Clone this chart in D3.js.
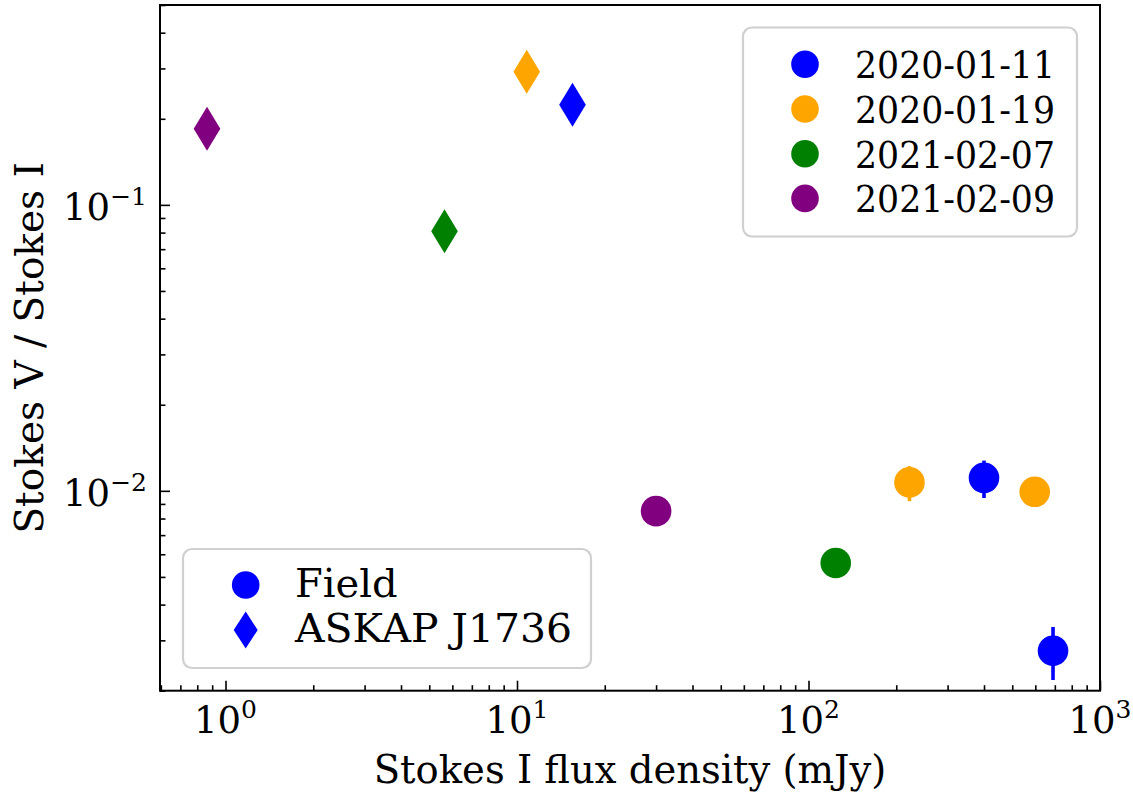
<!DOCTYPE html>
<html>
<head>
<meta charset="utf-8">
<script src="https://cdn.jsdelivr.net/npm/d3@7"></script>
<style>
  body { margin: 0; background: #fff; }
  svg { display: block; }
</style>
</head>
<body>
<svg id="chart" width="1133" height="795" font-family="'DejaVu Serif', 'Liberation Serif', 'Times New Roman', serif"></svg>
<script>
// ---- data ----
const dates = ["2020-01-11", "2020-01-19", "2021-02-07", "2021-02-09"];
const dateColors = ["#0000ff", "#ffa500", "#008000", "#800080"];

// Field sources (circles)
const fieldDate  = ["2020-01-11", "2020-01-11", "2020-01-19", "2020-01-19", "2021-02-07", "2021-02-09"];
const fieldFlux  = [400, 690, 222, 597, 124, 30.0];
const fieldRatio = [0.0111, 0.00276, 0.0107, 0.00992, 0.00559, 0.00849];
const fieldErr   = [0.00166, 0.00058, 0.0015, 0.0004, 0.0003, 0.0003];

// ASKAP J1736 (diamonds)
const srcDate  = ["2020-01-11", "2020-01-19", "2021-02-07", "2021-02-09"];
const srcFlux  = [15.5, 10.8, 5.64, 0.864];
const srcRatio = [0.224, 0.292, 0.0809, 0.1845];

const xMajorTicks = [1, 10, 100, 1000];
const xTickExp = ["0", "1", "2", "3"];
const yMajorTicks = [0.1, 0.01];
const yTickExp = ["\u22121", "\u22122"];

const xLabel = "Stokes I flux density (mJy)";
const yLabel = "Stokes V / Stokes I";
const shapeLegend = ["Field", "ASKAP J1736"];

// ---- layout ----
const L = 160, R = 1100, T = 5, B = 690.7;
const FONT = "'DejaVu Serif', 'Liberation Serif', serif";
const svg = d3.select("#chart");
const color = d3.scaleOrdinal().domain(dates).range(dateColors);
const x = d3.scaleLog().domain([0.596, 1000]).range([L, R]);
const y = d3.scaleLog().domain([0.002, 0.5]).range([B, T]);

function minorTicks(scale) {
  const [a, b] = scale.domain();
  const out = [];
  for (let e = Math.floor(Math.log10(a)); e <= Math.ceil(Math.log10(b)); e++) {
    for (let m = 2; m <= 9; m++) {
      const v = m * Math.pow(10, e);
      if (v >= a && v <= b) out.push(v);
    }
  }
  return out;
}

// axes ticks (inward)
const gx = svg.append("g").attr("transform", `translate(0,${B})`);
gx.call(d3.axisBottom(x).tickValues(xMajorTicks).tickSize(-10).tickFormat(""));
const gxm = svg.append("g").attr("transform", `translate(0,${B})`);
gxm.call(d3.axisBottom(x).tickValues(minorTicks(x)).tickSize(-5.5).tickFormat(""));
const gy = svg.append("g").attr("transform", `translate(${L},0)`);
gy.call(d3.axisLeft(y).tickValues(yMajorTicks).tickSize(-10).tickFormat(""));
const gym = svg.append("g").attr("transform", `translate(${L},0)`);
gym.call(d3.axisLeft(y).tickValues(minorTicks(y)).tickSize(-5.5).tickFormat(""));
svg.selectAll(".domain").remove();
svg.selectAll(".tick line").attr("stroke", "#000").attr("stroke-width", 1.6);

function txt(sel) { return sel.append("text").attr("font-family", FONT).attr("fill", "#000"); }

// tick labels
xMajorTicks.forEach((v, i) => {
  const t = txt(svg)
    .attr("x", x(v)).attr("y", 733)
    .attr("text-anchor", "middle")
    .attr("font-size", 37);
  t.append("tspan").text("10");
  t.append("tspan").attr("dy", -15).attr("font-size", 25).text(xTickExp[i]);
});
yMajorTicks.forEach((v, i) => {
  const t = txt(svg)
    .attr("x", 147).attr("y", y(v) + 15)
    .attr("text-anchor", "end")
    .attr("font-size", 37);
  t.append("tspan").text("10");
  t.append("tspan").attr("dy", -15).attr("font-size", 25).text(yTickExp[i]);
});

// axis labels
txt(svg)
  .attr("x", (L + R) / 2).attr("y", 783)
  .attr("text-anchor", "middle")
  .attr("font-size", 38.5)
  .text(xLabel);
txt(svg)
  .attr("transform", `translate(43,${(T + B) / 2}) rotate(-90)`)
  .attr("text-anchor", "middle")
  .attr("font-size", 39)
  .text(yLabel);

// data
const plot = svg.append("g");
const diamond = (w, h) => `M0,${-h} L${w},0 L0,${h} L${-w},0 Z`;

plot.selectAll("line.err").data(fieldFlux.map((f, i) => i)).join("line")
  .attr("class", "err")
  .attr("x1", i => x(fieldFlux[i])).attr("x2", i => x(fieldFlux[i]))
  .attr("y1", i => y(fieldRatio[i] + fieldErr[i]))
  .attr("y2", i => y(fieldRatio[i] - fieldErr[i]))
  .attr("stroke", i => color(fieldDate[i]))
  .attr("stroke-width", 3.6);

plot.selectAll("circle.field").data(fieldFlux.map((f, i) => i)).join("circle")
  .attr("class", "field")
  .attr("cx", i => x(fieldFlux[i]))
  .attr("cy", i => y(fieldRatio[i]))
  .attr("r", 15.3)
  .attr("fill", i => color(fieldDate[i]));

plot.selectAll("path.src").data(srcFlux.map((f, i) => i)).join("path")
  .attr("class", "src")
  .attr("transform", i => `translate(${x(srcFlux[i])},${y(srcRatio[i])})`)
  .attr("d", diamond(13.3, 22))
  .attr("fill", i => color(srcDate[i]));

// frame
svg.append("rect")
  .attr("x", L).attr("y", T).attr("width", R - L).attr("height", B - T)
  .attr("fill", "none").attr("stroke", "#000").attr("stroke-width", 2);

// legend: dates (top right)
const lg1 = svg.append("g");
lg1.append("rect")
  .attr("x", 743).attr("y", 27.5).attr("width", 334).attr("height", 209)
  .attr("rx", 9).attr("ry", 9)
  .attr("fill", "#fff").attr("fill-opacity", 0.8)
  .attr("stroke", "#d0d0d0").attr("stroke-width", 2.2);
dates.forEach((d, i) => {
  const cy = 64.3 + i * 44.7;
  lg1.append("circle").attr("cx", 805).attr("cy", cy).attr("r", 13.8).attr("fill", color(d));
  txt(lg1).attr("x", 855).attr("y", cy + 14).attr("font-size", 37)
    .attr("textLength", 200).attr("lengthAdjust", "spacingAndGlyphs").text(d);
});

// legend: shapes (bottom left)
const lg2 = svg.append("g");
lg2.append("rect")
  .attr("x", 183).attr("y", 549).attr("width", 408).attr("height", 119)
  .attr("rx", 9).attr("ry", 9)
  .attr("fill", "#fff").attr("fill-opacity", 0.8)
  .attr("stroke", "#d0d0d0").attr("stroke-width", 2.2);
lg2.append("circle").attr("cx", 245.7).attr("cy", 585).attr("r", 13.8).attr("fill", "#0000ff");
txt(lg2).attr("x", 295).attr("y", 597).attr("font-size", 40).text(shapeLegend[0]);
lg2.append("path").attr("transform", "translate(245.7,630)").attr("d", diamond(12, 18.5)).attr("fill", "#0000ff");
txt(lg2).attr("x", 295).attr("y", 642).attr("font-size", 40)
  .attr("textLength", 277).attr("lengthAdjust", "spacingAndGlyphs").text(shapeLegend[1]);
</script>
</body>
</html>
